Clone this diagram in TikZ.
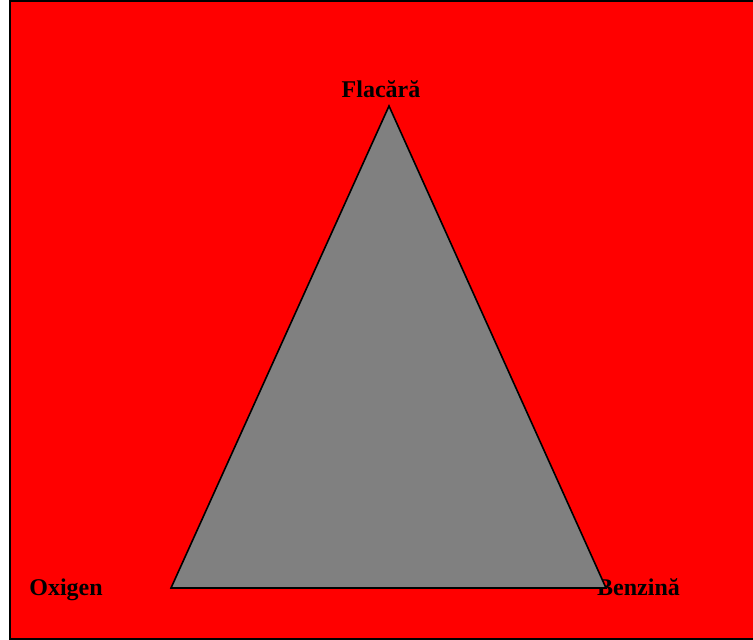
\documentclass[tikz,border=0pt]{standalone}
\usepackage{fontspec}
\setmainfont{Liberation Serif}
\usetikzlibrary{positioning}

\begin{document}
\begin{tikzpicture}[x=1pt, y=-1pt, lbl/.style={font=\fontsize{24}{28}\selectfont\bfseries, inner sep=0pt, anchor=base}, tri/.style={draw=black, line width=1.6pt, line join=miter, fill=gray}]
	\useasboundingbox (0,0) rectangle (753,640);
	\fill[white] (0,0) rectangle (753,640);
	\draw[fill=red, line width=2pt] (10,1) rectangle (760,639);
	\node[lbl] (flacara) at (381,97) {Flacără};
	\node[lbl] (oxigen) at (66,595) {Oxigen};
	\node[lbl] (benzina) at (638.5,595) {Benzină};
	% triangle over the labels
	\coordinate (F) at (389,106);
	\coordinate (O) at (171,588);
	\coordinate (B) at (606,588);
	\draw[tri] (F) -- (O) -- (B) -- cycle;
\end{tikzpicture}
\end{document}
